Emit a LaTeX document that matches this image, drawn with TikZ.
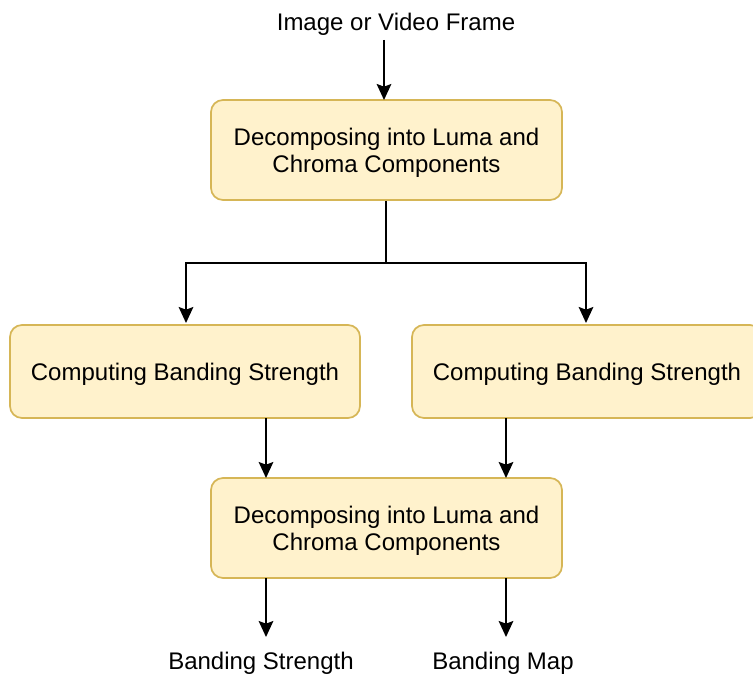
\documentclass[tikz,border=0pt]{standalone}
\usepackage{fontspec}
\setmainfont{Liberation Sans}
\usetikzlibrary{arrows.meta}
\definecolor{boxfill}{HTML}{FFF2CC}
\definecolor{boxdraw}{HTML}{D6B656}
\tikzset{
  stepbox/.style={draw=boxdraw, fill=boxfill, line width=1.3pt, rounded corners=9pt, inner sep=0pt},
  boxtext/.style={align=center, inner sep=0pt, anchor=center, yshift=-2.2pt},
  lbl/.style={inner sep=0pt, anchor=center, yshift=-2.2pt},
  conn/.style={line width=1.3pt, -{Stealth[length=12pt,width=11pt,inset=2pt]}},
  plain/.style={line width=1.3pt}
}
\begin{document}
\begin{tikzpicture}[x=0.75pt,y=-0.75pt,font=\fontsize{18pt}{20.25pt}\selectfont]
\useasboundingbox (0,0) rectangle (753,677);
\clip (0,0) rectangle (753,677);
\node[lbl] (in) at (396,21) {Image or Video Frame};
\node[stepbox, minimum width=351*0.75pt, minimum height=100*0.75pt] (a) at (386.5,150) {};
\node[boxtext] (ta) at (a.center) {Decomposing into Luma and\\Chroma Components};
\node[stepbox, minimum width=350*0.75pt, minimum height=93*0.75pt] (b) at (185,371.5) {};
\node[boxtext] (tb) at (b.center) {Computing Banding Strength};
\node[stepbox, minimum width=350*0.75pt, minimum height=93*0.75pt] (c) at (587,371.5) {};
\node[boxtext] (tc) at (c.center) {Computing Banding Strength};
\node[stepbox, minimum width=351*0.75pt, minimum height=100*0.75pt] (d) at (386.5,528) {};
\node[boxtext] (td) at (d.center) {Decomposing into Luma and\\Chroma Components};
\node[lbl] (o1) at (261,660) {Banding Strength};
\node[lbl] (o2) at (503,660) {Banding Map};
\coordinate (s) at (384,40);
\coordinate (j) at (386,263);
\coordinate (jl) at (186,263);
\coordinate (jr) at (586,263);
\draw[conn] (s) -- (384,100);
\draw[plain] (a.south -| j) -- (j);
\draw[conn] (j) -- (jl) -- (186,323);
\draw[conn] (j) -- (jr) -- (586,323);
\draw[conn] (266,418) -- (266,478);
\draw[conn] (506,418) -- (506,478);
\draw[conn] (266,578) -- (266,637);
\draw[conn] (506,578) -- (506,637);
\end{tikzpicture}
\end{document}
